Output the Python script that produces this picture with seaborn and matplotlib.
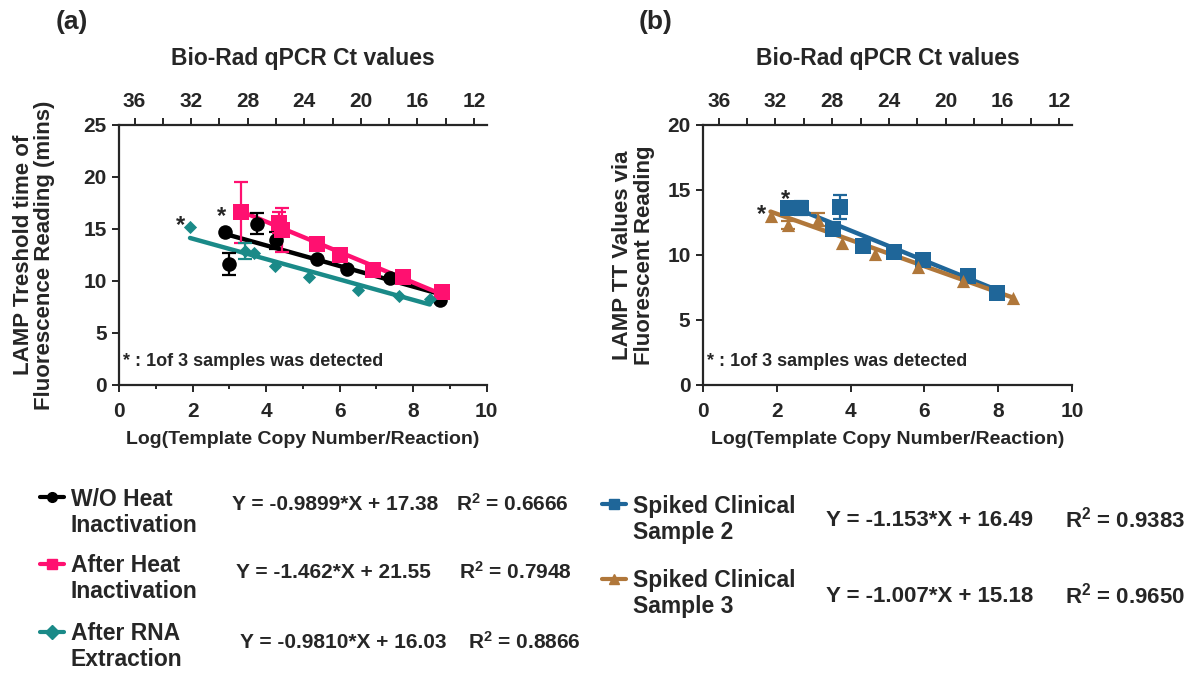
import numpy as np
import pandas as pd
import matplotlib.pyplot as plt
import seaborn as sns
from matplotlib.ticker import MultipleLocator

# ---- data ----
# (a) W/O heat inactivation
wo_x = [2.88, 3.00, 3.74, 4.26, 5.37, 6.19, 7.36, 8.72]
wo_y = [14.7, 11.6, 15.5, 13.9, 12.1, 11.2, 10.3, 8.2]
wo_err = [0, 1.05, 1.0, 0.8, 0, 0, 0, 0]
# (a) after heat inactivation
heat_x = [3.31, 4.35, 4.44, 5.39, 6.00, 6.91, 7.73, 8.79]
heat_y = [16.6, 15.6, 14.9, 13.6, 12.5, 11.1, 10.4, 8.9]
heat_err = [2.9, 1.0, 2.1, 0, 0, 0, 0, 0]
# (a) after RNA extraction
rna_x = [1.93, 3.42, 3.67, 4.24, 5.17, 6.50, 7.62, 8.45]
rna_y = [15.2, 12.9, 12.7, 11.4, 10.4, 9.1, 8.6, 8.3]
rna_err = [0, 0.8, 0, 0, 0, 0, 0, 0]
# (b) spiked clinical sample 2
s2_x = [2.29, 2.65, 3.51, 3.70, 4.34, 5.18, 5.95, 7.19, 7.98]
s2_y = [13.6, 13.6, 12.0, 13.7, 10.7, 10.2, 9.6, 8.4, 7.1]
s2_err = [0, 0.55, 0, 0.95, 0, 0, 0, 0, 0]
# (b) spiked clinical sample 3
s3_x = [1.83, 2.31, 3.12, 3.76, 4.66, 5.83, 7.05, 8.41]
s3_y = [13.0, 12.3, 12.7, 10.9, 10.1, 9.1, 8.0, 6.7]
s3_err = [0, 0.3, 0.5, 0, 0, 0, 0, 0]

# fitted lines: slope, intercept as printed
slopes = {'wo': -0.9899, 'heat': -1.462, 'rna': -0.9810, 's2': -1.153, 's3': -1.007}
intercepts = {'wo': 17.38, 'heat': 21.55, 'rna': 16.03, 's2': 16.49, 's3': 15.18}
equations = {'wo': 'Y = -0.9899*X + 17.38', 'heat': 'Y = -1.462*X + 21.55',
             'rna': 'Y = -0.9810*X + 16.03', 's2': 'Y = -1.153*X + 16.49',
             's3': 'Y = -1.007*X + 15.18'}
r_squared = {'wo': '0.6666', 'heat': '0.7948', 'rna': '0.8866', 's2': '0.9383', 's3': '0.9650'}
labels = {'wo': ('W/O Heat', 'Inactivation'), 'heat': ('After Heat', 'Inactivation'),
          'rna': ('After RNA', 'Extraction'), 's2': ('Spiked Clinical', 'Sample 2'),
          's3': ('Spiked Clinical', 'Sample 3')}

ct_ticks = [36, 32, 28, 24, 20, 16, 12]

sns.set_theme(style='ticks')
plt.rcParams['font.family'] = ['Liberation Sans', 'DejaVu Sans']
plt.rcParams['font.weight'] = 'bold'
plt.rcParams['axes.labelweight'] = 'bold'
plt.rcParams['axes.linewidth'] = 1.6
plt.rcParams['mathtext.fontset'] = 'custom'
plt.rcParams['mathtext.rm'] = 'Liberation Sans:bold'
plt.rcParams['mathtext.it'] = 'Liberation Sans:bold'
plt.rcParams['mathtext.bf'] = 'Liberation Sans:bold'
plt.rcParams['mathtext.default'] = 'rm'

colors = {'wo': '#000000', 'heat': '#FF1070', 'rna': '#1A8A88', 's2': '#1F6699', 's3': '#B0773A'}
markers = {'wo': ('o', 110), 'heat': ('s', 130), 'rna': ('D', 45), 's2': ('s', 120), 's3': ('^', 90)}

fig = plt.figure(figsize=(11.94, 6.76), dpi=100)
ax_a = fig.add_axes([0.0997, 0.4305, 0.308, 0.3846])
ax_b = fig.add_axes([0.5888, 0.4305, 0.309, 0.3846])

handles = {}


def draw_series(ax, key, x, y, err):
    color = colors[key]
    marker, ms = markers[key]
    df = pd.DataFrame({'x': x, 'y': y})
    xs = np.array([min(x), max(x)])
    line = pd.DataFrame({'x': xs, 'y': slopes[key] * xs + intercepts[key]})
    sns.lineplot(data=line, x='x', y='y', ax=ax, color=color, linewidth=3.2, legend=False)
    e = np.array(err)
    m = e > 0
    ax.errorbar(np.array(x)[m], np.array(y)[m], yerr=e[m], fmt='none', ecolor=color,
                elinewidth=1.6, capsize=5, capthick=1.6, zorder=3)
    sns.scatterplot(data=df, x='x', y='y', ax=ax, color=color, marker=marker, s=ms,
                    edgecolor=color, linewidth=0, zorder=4, legend=False)
    handles[key], = ax.plot([], [], color=color, marker=marker, markersize=7, linewidth=3)


draw_series(ax_a, 'wo', wo_x, wo_y, wo_err)
draw_series(ax_a, 'heat', heat_x, heat_y, heat_err)
draw_series(ax_a, 'rna', rna_x, rna_y, rna_err)
draw_series(ax_b, 's2', s2_x, s2_y, s2_err)
draw_series(ax_b, 's3', s3_x, s3_y, s3_err)

# asterisks on single-detection points
star_kw = dict(ha='center', va='center', fontsize=17)
ax_a.text(rna_x[0] - 0.25, rna_y[0] + 0.1, '*', **star_kw)
ax_a.text(wo_x[0] - 0.1, wo_y[0] + 1.5, '*', **star_kw)
ax_b.text(s3_x[0] - 0.25, s3_y[0] + 0.1, '*', **star_kw)
ax_b.text(s2_x[0] - 0.05, s2_y[0] + 0.7, '*', **star_kw)

for ax, ymax, ylab, lpad in [(ax_a, 25, 'LAMP Treshold time of\nFluorescence Reading (mins)', 20),
                             (ax_b, 20, 'LAMP TT Values via\nFluorescent Reading', 9)]:
    ax.set_xlim(0, 10)
    ax.set_ylim(0, ymax)
    ax.xaxis.set_major_locator(MultipleLocator(2))
    ax.yaxis.set_major_locator(MultipleLocator(5))
    ax.set_xlabel('Log(Template Copy Number/Reaction)', fontsize=14, labelpad=7)
    ax.set_ylabel(ylab, fontsize=16, labelpad=lpad, linespacing=1.05)
    ax.tick_params(axis='both', labelsize=15, width=1.4, length=5, pad=4)
    ax.tick_params(axis='x', pad=7.5)
    ax.tick_params(which='minor', width=1.4, length=3)
    sns.despine(ax=ax, top=True, right=True)
    ax.text(0.01, 0.09, '* : 1of 3 samples was detected', transform=ax.transAxes,
            fontsize=13, ha='left', va='center')

    top = ax.twiny()
    top.set_xlim(37.1, 11.1)
    top.set_xticks(ct_ticks)
    top.xaxis.set_minor_locator(MultipleLocator(2))
    top.tick_params(axis='x', labelsize=15, width=1.4, length=5, pad=5)
    top.tick_params(which='minor', width=1.4, length=5)
    top.spines['right'].set_visible(False)
    top.spines['left'].set_visible(False)
    top.spines['bottom'].set_visible(False)
    top.set_xlabel('Bio-Rad qPCR Ct values', fontsize=16.5, labelpad=19.5)

ax_a.xaxis.set_minor_locator(MultipleLocator(1))

fig.text(0.060, 0.967, '(a)', fontsize=19, ha='center', va='center')
fig.text(0.549, 0.967, '(b)', fontsize=19, ha='center', va='center')

# legend entries (handle + first line) with second line and equation beside them
H = 676.0
W = 1194.0
leg_fs = 16.5
leg_layout = {
    # key: (handle x px, first line y px, eq x px, eq y px, r2 x px, eq fontsize)
    'wo': (40, 499, 232, 504, 456, 15),
    'heat': (40, 566, 236, 572, 459, 15),
    'rna': (40, 634, 240, 642, 468, 15),
    's2': (602, 506, 826, 520, 1065, 16),
    's3': (602, 581, 826, 596, 1065, 16),
}
for key, (hx, ly, ex, ey, rx, efs) in leg_layout.items():
    first, second = labels[key]
    fig.legend([handles[key]], [first], loc='center left', bbox_to_anchor=(hx / W, 1 - ly / H),
               frameon=False, fontsize=leg_fs, handlelength=1.05, handletextpad=0.3,
               borderpad=0, borderaxespad=0)
    fig.text((hx + 31) / W, 1 - (ly + 26) / H, second, fontsize=leg_fs, ha='left', va='center')
    fig.text(ex / W, 1 - ey / H, equations[key], fontsize=efs, ha='left', va='center')
    fig.text(rx / W, 1 - ey / H, f'R$^{{2}}$ = {r_squared[key]}', fontsize=efs, ha='left', va='center')

fig.savefig('out.png', dpi=100)
